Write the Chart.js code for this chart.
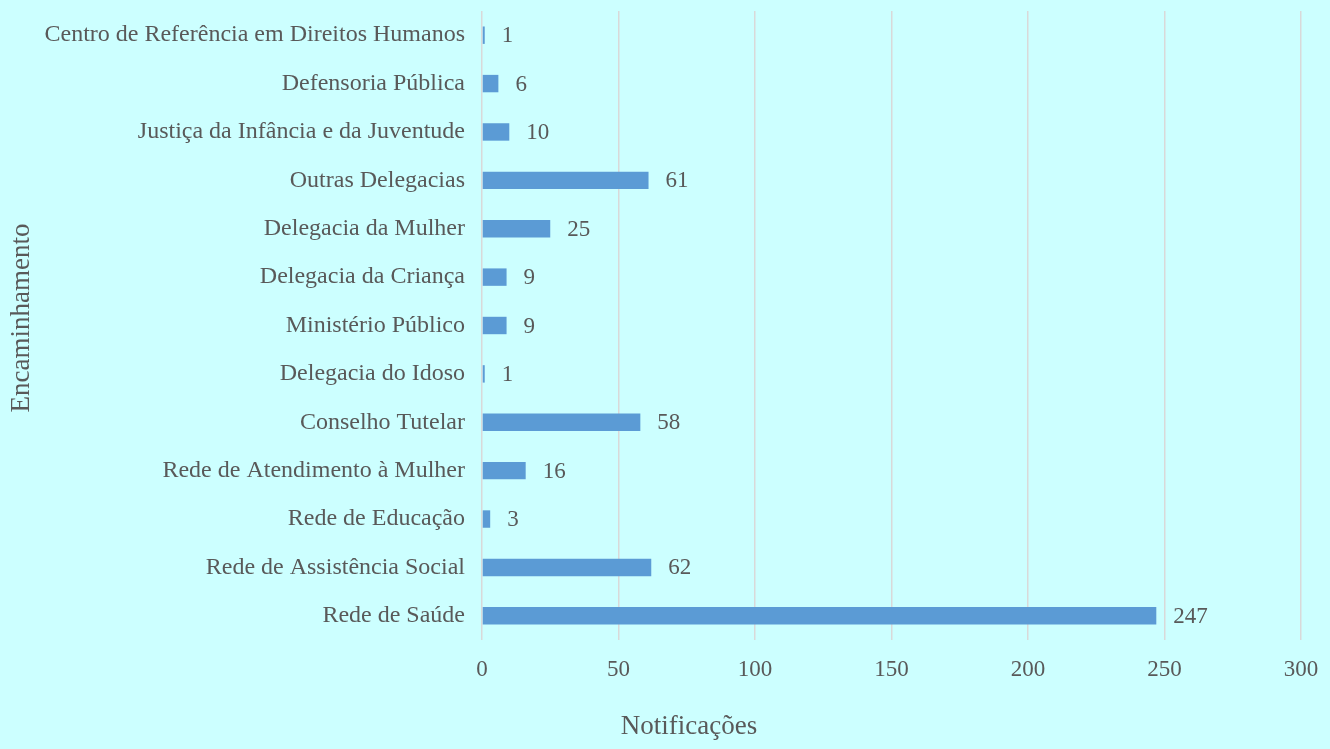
<!DOCTYPE html>
<html>
<head>
<meta charset="utf-8">
<script src="https://cdn.jsdelivr.net/npm/chart.js@4"></script>
<style>
  html, body { margin: 0; padding: 0; background: #ccffff; }
  #wrap { width: 1330px; height: 749px; position: relative; }
</style>
</head>
<body>
<div id="wrap"><canvas id="encChart"></canvas></div>
<script>
const categories = [
  'Centro de Referência em Direitos Humanos',
  'Defensoria Pública',
  'Justiça da Infância e da Juventude',
  'Outras Delegacias',
  'Delegacia da Mulher',
  'Delegacia da Criança',
  'Ministério Público',
  'Delegacia do Idoso',
  'Conselho Tutelar',
  'Rede de Atendimento à Mulher',
  'Rede de Educação',
  'Rede de Assistência Social',
  'Rede de Saúde'
]
const notificacoes = [1, 6, 10, 61, 25, 9, 9, 1, 58, 16, 3, 62, 247]
const xTicks = [0, 50, 100, 150, 200, 250, 300]

const textColor = '#595959'
const serif = "'Liberation Serif', 'Times New Roman', serif"

// values at the end of each bar + both axis titles (placed like the original)
const barValues = {
  id: 'barValues',
  afterDatasetsDraw(chart) {
    const ctx = chart.ctx
    const meta = chart.getDatasetMeta(0)
    ctx.save()
    ctx.font = '23px ' + serif
    ctx.fillStyle = textColor
    ctx.textAlign = 'left'
    ctx.textBaseline = 'middle'
    meta.data.forEach((bar, i) => {
      ctx.fillText(String(notificacoes[i]), bar.x + 17, bar.y + 1)
    })
    ctx.font = '27px ' + serif
    ctx.textAlign = 'center'
    ctx.fillText('Notificações', 689, 727)
    ctx.translate(22, 318)
    ctx.rotate(-Math.PI / 2)
    ctx.fillText('Encaminhamento', 0, 0)
    ctx.restore()
  }
}

let encChart = document.getElementById('encChart').getContext('2d')
let enc = new Chart(encChart, {
  type: 'bar',
  data: {
    labels: categories,
    datasets: [{
      label: 'Notificações',
      data: notificacoes,
      backgroundColor: '#5b9bd5',
      categoryPercentage: 1,
      barPercentage: 0.36
    }]
  },
  options: {
    indexAxis: 'y',
    responsive: true,
    maintainAspectRatio: false,
    animation: false,
    layout: { padding: { top: 11, right: 29, bottom: 0, left: 0 } },
    plugins: {
      legend: { display: false },
      tooltip: { enabled: false }
    },
    scales: {
      x: {
        min: 0,
        max: 300,
        afterBuildTicks(scale) { scale.ticks = xTicks.map(v => ({ value: v })) },
        afterFit(scale) {
          scale.height = 109
          scale.paddingLeft = 0
          scale.paddingRight = 0
        },
        grid: { color: '#d9d9d9', lineWidth: 1.5, drawTicks: false },
        border: { display: false },
        ticks: { color: textColor, font: { family: serif, size: 23 }, padding: 16 },
        title: { display: false }
      },
      y: {
        afterFit(scale) {
          scale.width = 482
          scale.paddingTop = 0
          scale.paddingBottom = 0
        },
        grid: { display: false, drawTicks: false },
        border: { display: false },
        ticks: { color: textColor, font: { family: serif, size: 24 }, padding: 17, autoSkip: false },
        title: { display: false }
      }
    }
  },
  plugins: [barValues]
})
</script>
</body>
</html>
